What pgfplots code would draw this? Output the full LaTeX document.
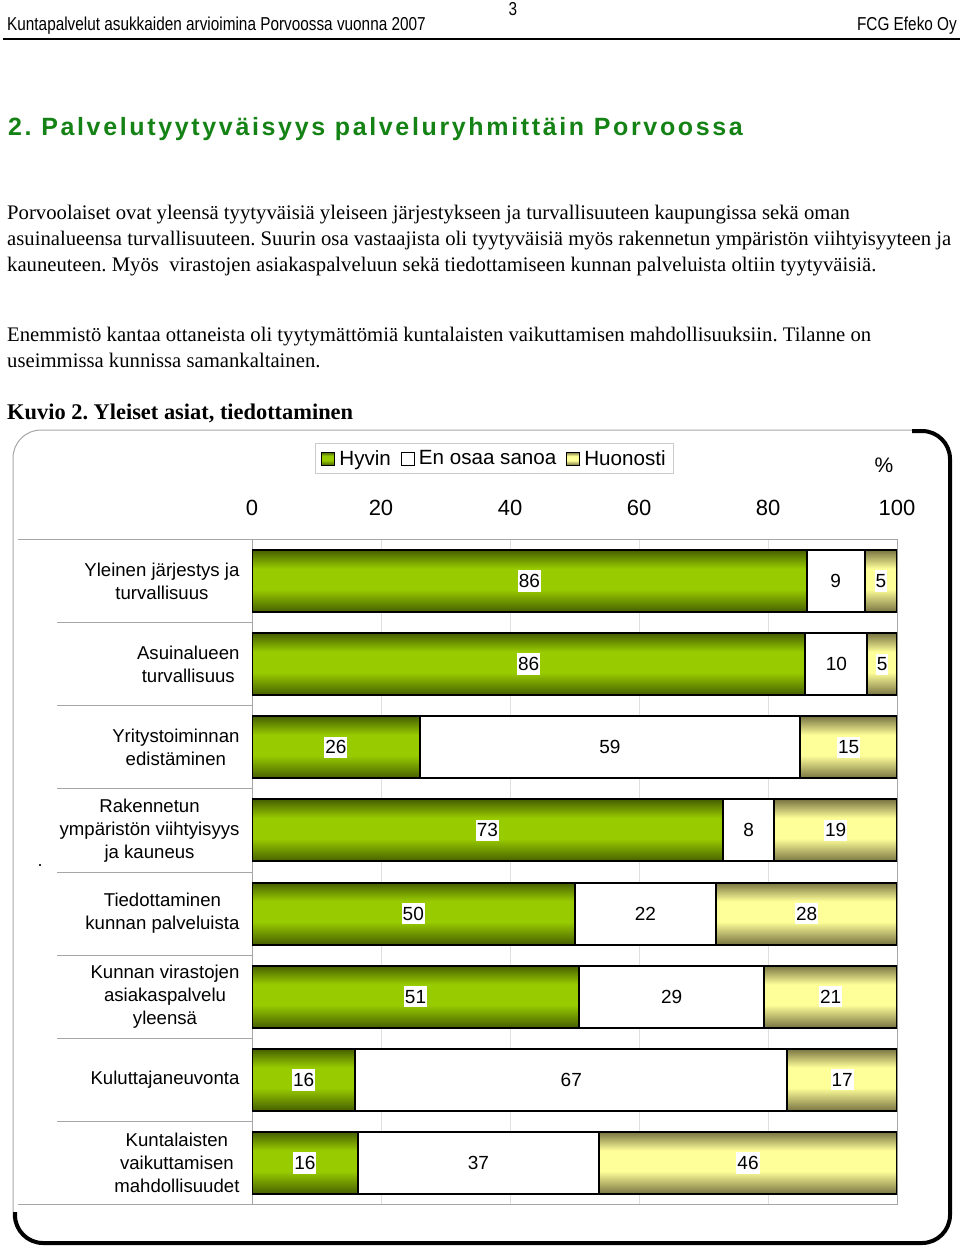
\documentclass[border=0pt]{standalone}
\usepackage{fontspec}
\setmainfont{Liberation Serif}
\newfontfamily\arial{Liberation Sans}
\newfontfamily\narrow[FakeStretch=0.82]{Liberation Sans}
\newfontfamily\titlefont[LetterSpace=10.6]{Liberation Sans}
\usepackage{pgfplots}
\pgfplotsset{compat=1.18}
\usepackage{pgfplotstable}
\frenchspacing

\definecolor{hyvdark}{RGB}{70,95,0}
\definecolor{hyvlight}{RGB}{153,204,0}
\definecolor{huodark}{RGB}{120,116,66}
\definecolor{huolight}{RGB}{255,255,153}
\definecolor{titlegreen}{RGB}{20,130,20}

% one band per bar (8 bars), the bars' bounding box maps to 25bp..75bp
\pgfdeclareverticalshading{hyvshade}{100bp}{color(0bp)=(hyvdark);
 color(25.000bp)=(hyvdark); color(26.781bp)=(hyvlight); color(28.370bp)=(hyvlight); color(29.815bp)=(hyvdark);
 color(31.455bp)=(hyvdark); color(33.236bp)=(hyvlight); color(34.825bp)=(hyvlight); color(36.270bp)=(hyvdark);
 color(37.910bp)=(hyvdark); color(39.691bp)=(hyvlight); color(41.280bp)=(hyvlight); color(42.725bp)=(hyvdark);
 color(44.365bp)=(hyvdark); color(46.146bp)=(hyvlight); color(47.735bp)=(hyvlight); color(49.180bp)=(hyvdark);
 color(50.820bp)=(hyvdark); color(52.601bp)=(hyvlight); color(54.190bp)=(hyvlight); color(55.635bp)=(hyvdark);
 color(57.275bp)=(hyvdark); color(59.056bp)=(hyvlight); color(60.645bp)=(hyvlight); color(62.090bp)=(hyvdark);
 color(63.730bp)=(hyvdark); color(65.511bp)=(hyvlight); color(67.100bp)=(hyvlight); color(68.545bp)=(hyvdark);
 color(70.185bp)=(hyvdark); color(71.966bp)=(hyvlight); color(73.555bp)=(hyvlight); color(75.000bp)=(hyvdark);
 color(100bp)=(hyvdark)}
\pgfdeclareverticalshading{huoshade}{100bp}{color(0bp)=(huodark);
 color(25.000bp)=(huodark); color(26.781bp)=(huolight); color(28.370bp)=(huolight); color(29.815bp)=(huodark);
 color(31.455bp)=(huodark); color(33.236bp)=(huolight); color(34.825bp)=(huolight); color(36.270bp)=(huodark);
 color(37.910bp)=(huodark); color(39.691bp)=(huolight); color(41.280bp)=(huolight); color(42.725bp)=(huodark);
 color(44.365bp)=(huodark); color(46.146bp)=(huolight); color(47.735bp)=(huolight); color(49.180bp)=(huodark);
 color(50.820bp)=(huodark); color(52.601bp)=(huolight); color(54.190bp)=(huolight); color(55.635bp)=(huodark);
 color(57.275bp)=(huodark); color(59.056bp)=(huolight); color(60.645bp)=(huolight); color(62.090bp)=(huodark);
 color(63.730bp)=(huodark); color(65.511bp)=(huolight); color(67.100bp)=(huolight); color(68.545bp)=(huodark);
 color(70.185bp)=(huodark); color(71.966bp)=(huolight); color(73.555bp)=(huolight); color(75.000bp)=(huodark);
 color(100bp)=(huodark)}
\pgfdeclareverticalshading{hyvsingle}{100bp}{color(0bp)=(hyvdark); color(25bp)=(hyvdark); color(43bp)=(hyvlight); color(60bp)=(hyvlight); color(75bp)=(hyvdark); color(100bp)=(hyvdark)}
\pgfdeclareverticalshading{huosingle}{100bp}{color(0bp)=(huodark); color(25bp)=(huodark); color(43bp)=(huolight); color(60bp)=(huolight); color(75bp)=(huodark); color(100bp)=(huodark)}

\pgfplotstableread{
idx hyvin eos huon
0 16.4 37.4 46.2
1 16 67 17
2 50.7 28.7 20.6
3 50 22 28
4 73 8 19
5 26 59 15
6 85.8 9.6 4.6
7 86 9 5
}\datatable

\newcommand{\bodyfont}{\fontsize{20.7}{24}\selectfont}

\begin{document}
\begin{tikzpicture}
\useasboundingbox (0pt,0pt) rectangle (960pt,-1249pt);

% header
\node[anchor=base west, inner sep=0pt, font=\narrow\fontsize{18.7}{20}\selectfont] at (7pt,-31pt) {Kuntapalvelut asukkaiden arvioimina Porvoossa vuonna 2007};
\node[anchor=base, inner sep=0pt, font=\narrow\fontsize{18.7}{20}\selectfont] at (513pt,-16pt) {3};
\node[anchor=base east, inner sep=0pt, font=\narrow\fontsize{18.7}{20}\selectfont] at (957pt,-31pt) {FCG Efeko Oy};
\draw[black, line width=2pt] (3pt,-39pt) -- (960pt,-39pt);

% title
\node[anchor=base west, inner sep=0pt, text=titlegreen, font=\titlefont\bfseries\fontsize{25}{30}\selectfont] at (8pt,-136pt) {2. Palvelutyytyväisyys palveluryhmittäin Porvoossa};

% paragraphs
\node[anchor=base west, inner sep=0pt, font=\bodyfont] at (7pt,-220pt) {Porvoolaiset ovat yleensä tyytyväisiä yleiseen järjestykseen ja turvallisuuteen kaupungissa sekä oman};
\node[anchor=base west, inner sep=0pt, font=\bodyfont] at (7pt,-245pt) {asuinalueensa turvallisuuteen. Suurin osa vastaajista oli tyytyväisiä myös rakennetun ympäristön viihtyisyyteen ja};
\node[anchor=base west, inner sep=0pt, font=\bodyfont] at (7pt,-271pt) {kauneuteen. Myös\ \ virastojen asiakaspalveluun sekä tiedottamiseen kunnan palveluista oltiin tyytyväisiä.};
\node[anchor=base west, inner sep=0pt, font=\bodyfont] at (7pt,-341pt) {Enemmistö kantaa ottaneista oli tyytymättömiä kuntalaisten vaikuttamisen mahdollisuuksiin. Tilanne on};
\node[anchor=base west, inner sep=0pt, font=\bodyfont] at (7pt,-367pt) {useimmissa kunnissa samankaltainen.};
\node[anchor=base west, inner sep=0pt, font=\bfseries\fontsize{22.4}{26}\selectfont] at (7pt,-419pt) {Kuvio 2. Yleiset asiat, tiedottaminen};

% chart frame
\draw[gray!70, line width=1pt, rounded corners=28pt] (13pt,-430pt) rectangle (949pt,-1242pt);
\draw[black, line width=4pt, rounded corners=28pt] (912pt,-431pt) -- (950pt,-431pt) -- (950pt,-1243pt) -- (15pt,-1243pt) -- (15pt,-1212pt);

% category separators
\foreach \k in {1,...,7} {
  \draw[gray!70, line width=1pt] (57pt,{-539.5pt-83.125pt*\k}) -- (252pt,{-539.5pt-83.125pt*\k});
}
\draw[gray!70, line width=1pt] (18pt,-539.5pt) -- (252pt,-539.5pt);
\draw[gray!70, line width=1pt] (18pt,-1204.5pt) -- (252pt,-1204.5pt);
\node[font=\arial\fontsize{18}{20}\selectfont] at (40pt,-866pt) {.};
\node[font=\arial\fontsize{21}{24}\selectfont] at (884pt,-465pt) {\%};

\begin{axis}[
  at={(252pt,-1204.5pt)}, anchor=south west,
  scale only axis, width=645pt, height=665pt,
  xbar stacked, bar width=62pt,
  xmin=0, xmax=100, ymin=-0.5, ymax=7.5,
  xtick={0,20,40,60,80,100}, xticklabel pos=right,
  ytick={0,...,7},
  yticklabels={{Kuntalaisten\\vaikuttamisen\\mahdollisuudet}, Kuluttajaneuvonta, {Kunnan virastojen\\asiakaspalvelu\\yleensä}, {Tiedottaminen\\kunnan palveluista}, {Rakennetun\\ympäristön viihtyisyys\\ja kauneus}, {Yritystoiminnan\\edistäminen}, {Asuinalueen\\turvallisuus}, {Yleinen järjestys ja\\turvallisuus}},
  major tick length=0pt,
  xmajorgrids, grid style={gray!25, line width=0.8pt},
  axis line style={gray!70, line width=1pt},
  /pgf/number format/assume math mode=true,
  xticklabel style={font=\arial\fontsize{22}{26}\selectfont, anchor=base, yshift=24pt},
  yticklabel style={font=\arial\fontsize{18.6}{23}\selectfont, align=center, xshift=-9pt},
  legend columns=3,
  legend style={at={(0.0977,1.1451)}, anchor=north west, draw=gray!40, line width=0.8pt,
    font=\arial\fontsize{20.6}{24}\selectfont, inner xsep=6pt, inner ysep=5pt,
    /tikz/every even column/.append style={column sep=8pt},
    /tikz/every odd column/.append style={column sep=2pt}},
  point meta=explicit,
  nodes near coords={\pgfmathprintnumber[fixed,precision=0]{\pgfplotspointmeta}},
  every node near coord/.append style={anchor=center, fill=white, inner xsep=1pt, inner ysep=4pt,
    font=\arial\fontsize{19}{22}\selectfont, text=black},
]
\addplot[draw=black, line width=2pt, shade, shading=hyvshade,
  legend image code/.code={\draw[draw=black, line width=1pt, shade, shading=hyvsingle] (0pt,-6.5pt) rectangle (13pt,6.5pt);}]
  table[x=hyvin, y=idx, meta=hyvin] {\datatable};
\addlegendentry{Hyvin}
\addplot[draw=black, line width=2pt, fill=white,
  legend image code/.code={\draw[draw=black, line width=1pt, fill=white] (0pt,-6.5pt) rectangle (13pt,6.5pt);}]
  table[x=eos, y=idx, meta=eos] {\datatable};
\addlegendentry{En osaa sanoa}
\addplot[draw=black, line width=2pt, shade, shading=huoshade,
  legend image code/.code={\draw[draw=black, line width=1pt, shade, shading=huosingle] (0pt,-6.5pt) rectangle (13pt,6.5pt);}]
  table[x=huon, y=idx, meta=huon] {\datatable};
\addlegendentry{Huonosti}
\end{axis}
\end{tikzpicture}
\end{document}
